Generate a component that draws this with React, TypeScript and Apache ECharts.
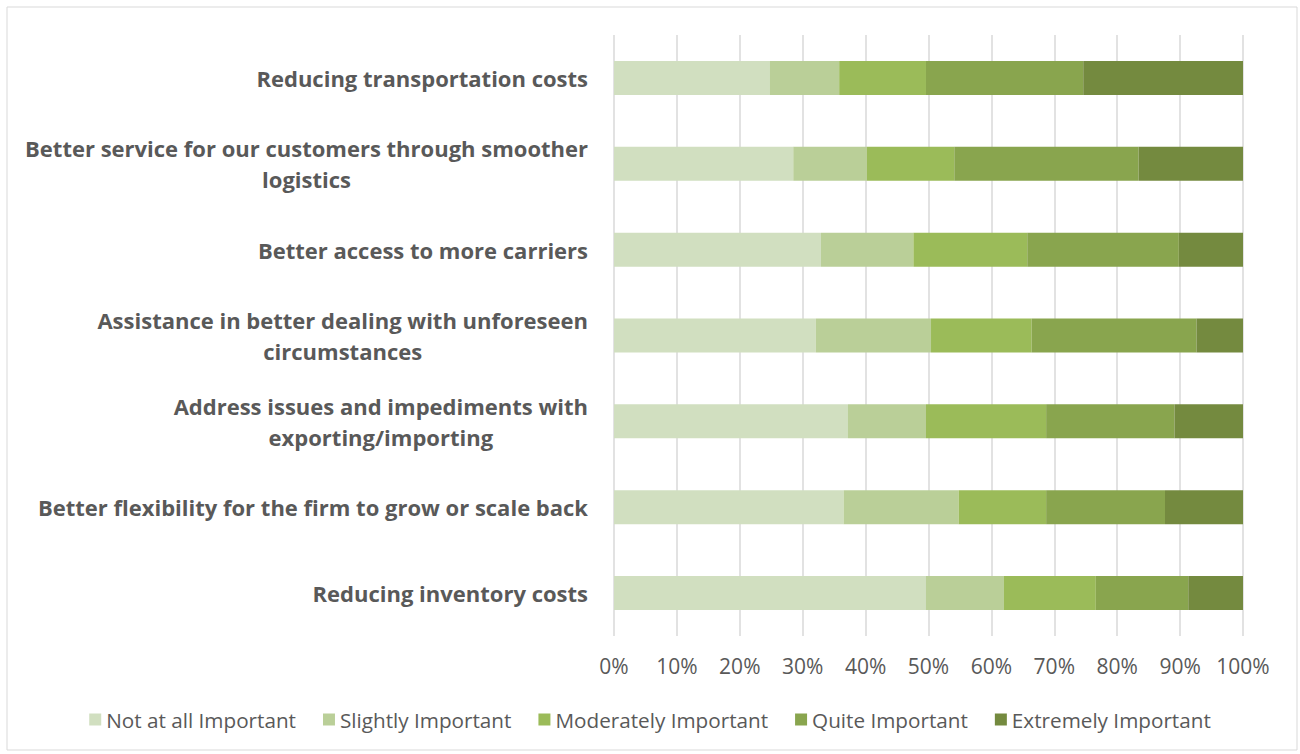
import React, { useEffect, useRef } from "react";
import * as echarts from "echarts";

const categories: string[] = [
  "Reducing transportation costs",
  "Better service for our customers through smoother\nlogistics",
  "Better access to more carriers",
  "Assistance in better dealing with unforeseen\ncircumstances",
  "Address issues and impediments with\nexporting/importing",
  "Better flexibility for the firm to grow or scale back",
  "Reducing inventory costs",
];

const seriesNames: string[] = [
  "Not at all Important",
  "Slightly Important",
  "Moderately Important",
  "Quite Important",
  "Extremely Important",
];

const notAtAll: number[] = [24.8, 28.5, 32.9, 32.1, 37.2, 36.5, 49.6];
const slightly: number[] = [11.0, 11.7, 14.7, 18.3, 12.4, 18.3, 12.4];
const moderately: number[] = [13.8, 13.9, 18.1, 16.0, 19.1, 13.9, 14.6];
const quite: number[] = [25.0, 29.3, 24.1, 26.2, 20.4, 18.9, 14.7];
const extremely: number[] = [25.4, 16.6, 10.2, 7.4, 10.9, 12.4, 8.7];

const colors: string[] = ["#d1dfc0", "#bacf98", "#9bbb59", "#89a54e", "#748a3f"];

const FONT = "Open Sans";

export default function App() {
  const ref = useRef<HTMLDivElement>(null);
  useEffect(() => {
    if (!ref.current) return;
    const chart = echarts.init(ref.current, null, { renderer: "svg" });
    const values = [notAtAll, slightly, moderately, quite, extremely];
    chart.setOption({
      animation: false,
      backgroundColor: "#ffffff",
      textStyle: { fontFamily: FONT },
      graphic: [
        {
          type: "rect",
          shape: { x: 7, y: 7, width: 1290, height: 743 },
          style: { fill: "none", stroke: "#d9d9d9", lineWidth: 1 },
          silent: true,
        },
      ],
      grid: { left: 614, right: 57, top: 35, bottom: 118, containLabel: false },
      legend: {
        top: 704,
        left: "center",
        itemWidth: 12,
        itemHeight: 12,
        itemGap: 27,
        icon: "rect",
        textStyle: { fontSize: 20.7, color: "#595959", fontFamily: FONT },
        data: seriesNames,
      },
      xAxis: {
        type: "value",
        min: 0,
        max: 100,
        interval: 10,
        axisLine: { show: false },
        axisTick: { show: false },
        axisLabel: {
          formatter: "{value}%",
          fontSize: 21,
          color: "#595959",
          margin: 19,
          fontFamily: FONT,
        },
        splitLine: { lineStyle: { color: "#d9d9d9", width: 1.5 } },
      },
      yAxis: {
        type: "category",
        inverse: true,
        data: categories,
        axisLine: { show: false },
        axisTick: { show: false },
        axisLabel: {
          margin: 26,
          formatter: (v: string) =>
            v
              .split("\n")
              .map((line) => `{c|${line}}`)
              .join("\n"),
          rich: {
            c: {
              fontSize: 22,
              fontWeight: "bold",
              color: "#595959",
              align: "center",
              lineHeight: 31,
              fontFamily: FONT,
            },
          },
        },
      },
      series: seriesNames.map((name, i) => ({
        name,
        type: "bar",
        stack: "total",
        barWidth: 34,
        itemStyle: { color: colors[i] },
        data: values[i],
      })),
    });
    return () => chart.dispose();
  }, []);
  return (
    <div
      ref={ref}
      style={{ position: "absolute", left: 0, top: 0, width: 1300, height: 754 }}
    />
  );
}
